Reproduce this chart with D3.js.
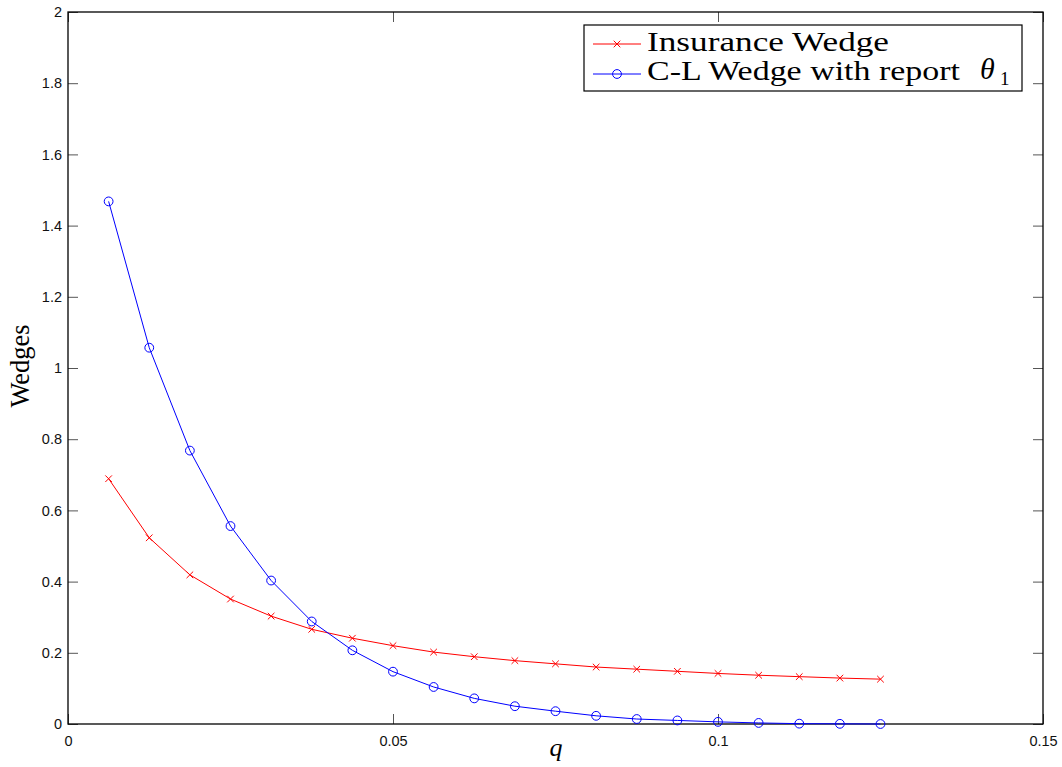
<!DOCTYPE html>
<html>
<head>
<meta charset="utf-8">
<script src="https://cdn.jsdelivr.net/npm/d3@7"></script>
<style>
html,body{margin:0;padding:0;background:#fff;}
svg{display:block;}
</style>
</head>
<body>
<svg id="chart" width="1062" height="767"></svg>
<script>
const qValues = [0.00625,0.0125,0.01875,0.025,0.03125,0.0375,0.04375,0.05,0.05625,0.0625,0.06875,0.075,0.08125,0.0875,0.09375,0.1,0.10625,0.1125,0.11875,0.125];
const insuranceWedge = [0.689,0.523,0.419,0.351,0.303,0.266,0.241,0.220,0.202,0.189,0.178,0.169,0.160,0.154,0.148,0.142,0.137,0.133,0.129,0.126];
const clWedge = [1.468,1.057,0.768,0.556,0.403,0.288,0.207,0.147,0.104,0.072,0.050,0.036,0.023,0.014,0.010,0.006,0.003,0.001,0.0005,0.0];
const xTicks = [0,0.05,0.1,0.15];
const xTickLabels = ["0","0.05","0.1","0.15"];
const yTicks = [0,0.2,0.4,0.6,0.8,1,1.2,1.4,1.6,1.8,2];
const yTickLabels = ["0","0.2","0.4","0.6","0.8","1","1.2","1.4","1.6","1.8","2"];
const seriesNames = ["Insurance Wedge","C-L Wedge with report"];

const svg = d3.select("#chart");
const L = 68, R = 1043, T = 12, B = 724;
const x = d3.scaleLinear().domain([0,0.15]).range([L,R]);
const y = d3.scaleLinear().domain([0,2]).range([B,T]);

const tickFont = "'Liberation Sans', Arial, Helvetica, sans-serif";
const serif = "'Liberation Serif', 'Times New Roman', serif";

const tickLen = 10;
const g = svg.append("g");
const bottomAxis = d3.axisBottom(x).tickValues(xTicks).tickFormat((d,i)=>xTickLabels[i]).tickSizeInner(-tickLen).tickSizeOuter(0).tickPadding(12);
const leftAxis = d3.axisLeft(y).tickValues(yTicks).tickFormat((d,i)=>yTickLabels[i]).tickSizeInner(-tickLen).tickSizeOuter(0).tickPadding(16);
const topAxis = d3.axisTop(x).tickValues(xTicks).tickFormat("").tickSizeInner(-tickLen).tickSizeOuter(0);
const rightAxis = d3.axisRight(y).tickValues(yTicks).tickFormat("").tickSizeInner(-tickLen).tickSizeOuter(0);

function styleAxis(sel){
  sel.select(".domain").remove();
  sel.selectAll(".tick line").attr("stroke","#555").attr("stroke-width",1);
  sel.selectAll(".tick text").attr("fill","#111").style("font-family",tickFont).style("font-size","14.5px");
}
g.append("g").attr("transform",`translate(0,${B})`).call(bottomAxis).call(styleAxis)
  .selectAll(".tick text").attr("dy","0.71em");
g.append("g").attr("transform",`translate(${L},0)`).call(leftAxis).call(styleAxis)
  .selectAll(".tick text").attr("text-anchor","end").attr("x",-6);
g.append("g").attr("transform",`translate(0,${T})`).call(topAxis).call(styleAxis);
g.append("g").attr("transform",`translate(${R},0)`).call(rightAxis).call(styleAxis);

svg.append("rect").attr("x",L).attr("y",T).attr("width",R-L).attr("height",B-T)
  .attr("fill","none").attr("stroke","#000").attr("stroke-width",1.3);

const red = "#ff0000", blue = "#0000ff";
const line = d3.line().x(d=>x(d[0])).y(d=>y(d[1]));
const insData = qValues.map((q,i)=>[q,insuranceWedge[i]]);
const clData = qValues.map((q,i)=>[q,clWedge[i]]);

svg.append("path").datum(insData).attr("d",line).attr("fill","none").attr("stroke",red).attr("stroke-width",1);
svg.append("path").datum(clData).attr("d",line).attr("fill","none").attr("stroke",blue).attr("stroke-width",1);

function crossPath(cx,cy,s){return `M${cx-s},${cy-s}L${cx+s},${cy+s}M${cx-s},${cy+s}L${cx+s},${cy-s}`;}
svg.append("g").selectAll("path").data(insData).join("path")
  .attr("d",d=>crossPath(x(d[0]),y(d[1]),3.3)).attr("stroke",red).attr("stroke-width",1).attr("fill","none");
svg.append("g").selectAll("circle").data(clData).join("circle")
  .attr("cx",d=>x(d[0])).attr("cy",d=>y(d[1])).attr("r",4.4)
  .attr("stroke",blue).attr("stroke-width",1).attr("fill","none");

// axis labels
svg.append("text").attr("x",556).attr("y",756).attr("text-anchor","middle")
  .style("font-family",serif).style("font-style","italic").style("font-size","26px").text("q");
svg.append("text").attr("transform","translate(29,366) rotate(-90)").attr("text-anchor","middle")
  .attr("textLength",83).attr("lengthAdjust","spacingAndGlyphs")
  .style("font-family",serif).style("font-size","27px").text("Wedges");

// legend
const lg = svg.append("g");
lg.append("rect").attr("x",584).attr("y",25).attr("width",438).attr("height",66)
  .attr("fill","#fff").attr("stroke","#000").attr("stroke-width",1.2);
const rows = [{y:44,base:51,c:red,m:"x",len:242},{y:74,base:80,c:blue,m:"o",len:313}];
rows.forEach((r,i)=>{
  lg.append("line").attr("x1",593).attr("x2",641).attr("y1",r.y).attr("y2",r.y).attr("stroke",r.c).attr("stroke-width",1);
  if(r.m==="x") lg.append("path").attr("d",crossPath(617,r.y,3.3)).attr("stroke",r.c).attr("fill","none");
  else lg.append("circle").attr("cx",617).attr("cy",r.y).attr("r",4.4).attr("stroke",r.c).attr("fill","none");
  lg.append("text").attr("x",647).attr("y",r.base).attr("textLength",r.len).attr("lengthAdjust","spacingAndGlyphs")
    .style("font-family",serif).style("font-size","28px").text(seriesNames[i]);
  if(i===1){
    lg.append("text").attr("x",980).attr("y",r.base-1)
      .style("font-family",serif).style("font-style","italic").style("font-size","30px").text("θ");
    lg.append("text").attr("x",1000).attr("y",r.base+5)
      .style("font-family",serif).style("font-size","19px").text("1");
  }
});
</script>
</body>
</html>
